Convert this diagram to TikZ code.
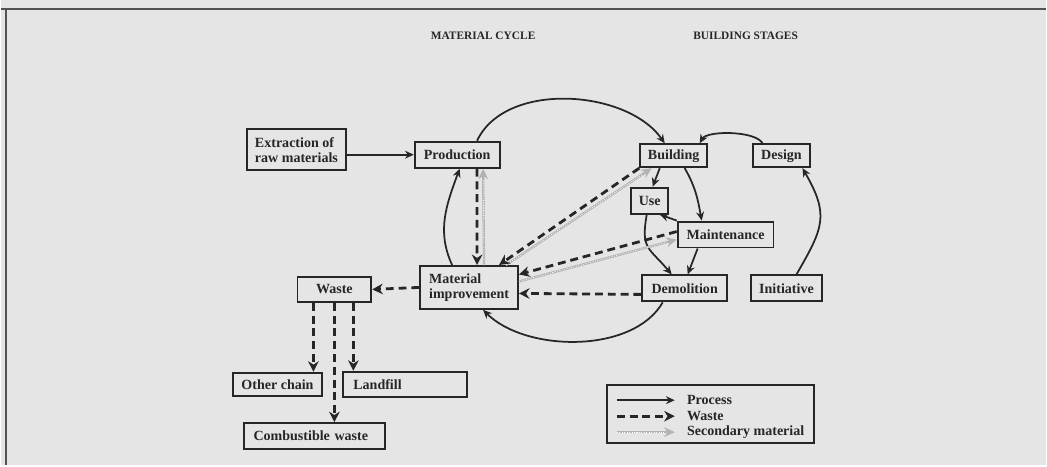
\documentclass[tikz,border=0pt]{standalone}
\usepackage{fontspec}
\setmainfont{Liberation Serif}
\usetikzlibrary{arrows.meta}
\usetikzlibrary{shapes}

\definecolor{paper}{gray}{0.9}
\definecolor{ink}{gray}{0.15}

\begin{document}
\begin{tikzpicture}[x=0.02cm,y=0.02cm,
		stage/.style={draw=ink, line width=1.1pt, text=ink,
			font=\bfseries\fontsize{8}{8.5}\selectfont, inner xsep=3pt, inner ysep=2pt},
		process/.style={draw=ink, line width=1pt, -{Stealth[length=5pt,width=4.5pt]}},
		waste flow/.style={draw=ink, line width=1.6pt, dash pattern=on 4.5pt off 2.8pt,
			-{Stealth[length=6pt,width=6pt]}},
		secondary/.style={draw=gray!60, line width=1.3pt, -{Stealth[length=6pt,width=5.5pt]},
			postaction={draw=white, line width=0.4pt, dash pattern=on 0.6pt off 0.8pt, shorten >=6pt, -}},
		title/.style={text=ink, font=\bfseries\fontsize{6.5}{7}\selectfont},
		legend label/.style={anchor=west, text=ink, font=\bfseries\fontsize{8}{8.5}\selectfont, inner sep=0pt}]
		% Paper and the frame of the figure
		\fill[paper] (0,0) rectangle (1047,-466);
		\draw[ink!80, line width=1.2pt] (0,-9) -- (1047,-9);
		\draw[ink!80, line width=1.2pt] (5,-9) -- (5,-466);
		% Titles of the two cycles
		\node[title] (Material Cycle Title) at (483,-36) {MATERIAL CYCLE};
		\node[title] (Building Stages Title) at (746,-36) {BUILDING STAGES};
		% Boxes of the material cycle
		\node[stage, minimum width=2cm, minimum height=0.82cm, align=left] (Extraction) at (296,-150) {Extraction of\\raw materials};
		\node[stage, minimum width=1.7cm, minimum height=0.52cm] (Production) at (457,-155) {Production};
		\node[stage, minimum width=1.96cm, minimum height=0.86cm, align=left] (Material Improvement) at (469,-288) {Material\\improvement};
		\node[stage, minimum width=1.48cm, minimum height=0.5cm] (Waste) at (334,-290) {Waste};
		\node[stage, minimum width=1.8cm, minimum height=0.46cm] (Other Chain) at (277,-385) {Other chain};
		\node[stage, inner xsep=0.2cm, text width=2.08cm, minimum height=0.5cm, align=left] (Landfill) at (405,-385) {Landfill};
		\node[stage, inner xsep=0.2cm, text width=2.44cm, minimum height=0.52cm, align=left] (Combustible Waste) at (314,-437) {Combustible waste};
		% Boxes of the building stages
		\node[stage, minimum width=1.34cm, minimum height=0.46cm] (Building) at (674,-156) {Building};
		\node[stage, minimum width=1.14cm, minimum height=0.46cm] (Design) at (782,-156) {Design};
		\node[stage, minimum width=0.74cm, minimum height=0.52cm] (Use) at (650,-201) {Use};
		\node[stage, minimum width=1.92cm, minimum height=0.52cm] (Maintenance) at (726,-235) {Maintenance};
		\node[stage, minimum width=1.7cm, minimum height=0.52cm] (Demolition) at (685,-289) {Demolition};
		\node[stage, minimum width=1.42cm, minimum height=0.52cm] (Initiative) at (787,-289) {Initiative};

		% Process: the big material circle
		\draw[process] (Extraction.east |- Production.west) -- (Production.west);
		\draw[process] ([xshift=0.4cm]Production.north) to[out=65,in=125,looseness=0.9] ([xshift=-0.18cm]Building.north);
		\draw[process] ([xshift=-0.44cm]Demolition.south) to[out=-120,in=-45,looseness=0.85] ([xshift=0.28cm]Material Improvement.south);
		\draw[process] ([xshift=-0.34cm]Material Improvement.north) to[out=115,in=-110] ([xshift=0.05cm]Production.south);
		% Process: the building stages
		\draw[process] ([xshift=0.2cm]Initiative.north) to[out=60,in=-60,looseness=1.3] ([xshift=0.42cm]Design.south);
		\draw[process] ([xshift=-0.38cm]Design.north) to[out=120,in=60,looseness=0.6] ([xshift=0.52cm]Building.north);
		\draw[process] ([xshift=-0.28cm]Building.south) to[out=-110,in=70] ([xshift=0.06cm]Use.north);
		\draw[process] ([xshift=0.22cm]Building.south) to[out=-60,in=100] ([xshift=-0.48cm]Maintenance.north);
		\draw[process] (Maintenance.north west) -- ([xshift=0.2cm]Use.south);
		\draw[process] ([xshift=-0.06cm]Use.south) to[out=-100,in=130,looseness=1.4] ([xshift=-0.26cm]Demolition.north);
		\draw[process] ([xshift=-0.56cm]Maintenance.south) -- ([xshift=0.06cm]Demolition.north);

		% Secondary material back into the stages
		\draw[secondary] ([xshift=0.3cm]Material Improvement.north) -- ([xshift=0.52cm]Production.south);
		\draw[secondary] ([xshift=0.74cm]Material Improvement.north) -- ([xshift=-0.44cm]Building.south);
		\draw[secondary] ([yshift=0.12cm]Material Improvement.east) -- ([yshift=-0.1cm]Maintenance.west);
		% Waste flows
		\draw[waste flow] ([xshift=0.4cm]Production.south) -- ([xshift=0.16cm]Material Improvement.north);
		\draw[waste flow] (Building.south west) -- ([xshift=0.6cm]Material Improvement.north);
		\draw[waste flow] ([yshift=0.06cm]Maintenance.west) -- ([yshift=0.26cm]Material Improvement.east);
		\draw[waste flow] ([yshift=-0.12cm]Demolition.west) -- ([yshift=-0.12cm]Material Improvement.east);
		\draw[waste flow] (Material Improvement.west) -- (Waste.east);
		\draw[waste flow] ([xshift=-0.42cm]Waste.south) -- ([xshift=-0.42cm]Waste.south |- Other Chain.north);
		\draw[waste flow] (Waste.south) -- (Waste.south |- Combustible Waste.north);
		\draw[waste flow] ([xshift=0.38cm]Waste.south) -- ([xshift=0.38cm]Waste.south |- Landfill.north);

		% Legend box with its three samples
		\draw[ink, line width=1.1pt] (607,-386) coordinate (Legend Upper Left) rectangle (815,-444) coordinate (Legend Lower Right);
		\draw[process, line width=1.3pt] (617,-401) coordinate (Process Sample) -- (675,-401);
		\draw[waste flow] (617,-417) coordinate (Waste Sample) -- (675,-417);
		\draw[secondary] (617,-433) coordinate (Secondary Sample) -- (675,-433);
		\node[legend label] (Process Label) at (687,-401) {Process};
		\node[legend label] (Waste Label) at (687,-417) {Waste};
		\node[legend label] (Secondary Label) at (687,-433) {Secondary material};
	\end{tikzpicture}
\end{document}
